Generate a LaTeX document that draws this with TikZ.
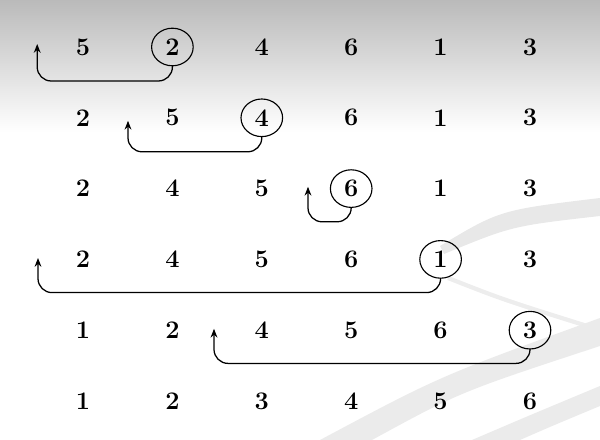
\documentclass[tikz,border=0pt]{standalone}
\usetikzlibrary{arrows.meta}

\begin{document}
\begin{tikzpicture}[line width=0.9pt,>={Stealth[length=2.2mm,width=1.7mm]},
  num/.style={font=\fontsize{18}{20}\selectfont\bfseries,inner sep=1pt},
  ring/.style={line width=0.8pt},
  back/.style={->,rounded corners=0.35cm}]
  \useasboundingbox (0,0) rectangle (15,11);
  % slide background
  \shade[top color=black!27,bottom color=white] (0,7.7) rectangle (15,11);
  \fill[black!9] (11.0,4.85) .. controls (12.5,5.75) .. (15,6.05) -- (15,5.6) .. controls (12.8,5.35) .. (11.1,4.65) -- cycle;
  \draw[black!7,line width=3pt] (11.2,4.05) .. controls (12.6,3.5) .. (15,2.75);
  \fill[black!8] (8.0,0) .. controls (11,1.6) .. (15,3.05) -- (15,2.35) .. controls (11.5,1.2) .. (9.3,0) -- cycle;
  \fill[black!8] (11.8,0) .. controls (13.2,0.6) .. (15,1.35) -- (15,0.85) .. controls (13.8,0.35) .. (13.0,0) -- cycle;
  % the six rows
  \foreach \vals [count=\r] in {{5,2,4,6,1,3},{2,5,4,6,1,3},{2,4,5,6,1,3},{2,4,5,6,1,3},{1,2,4,5,6,3},{1,2,3,4,5,6}}
    \foreach \v [count=\c] in \vals
      \node[num] (n\r\c) at ({2.075+2.235*(\c-1)},{9.825-1.77*(\r-1)}) {\v};
  \foreach \n in {12,23,34,45,56}
    \draw[ring] (n\n) ellipse [x radius=0.52,y radius=0.47];
  % where each key goes
  \coordinate (t1) at (0.93,9.9);
  \coordinate (t2) at (3.2,7.98);
  \coordinate (t3) at (7.7,6.33);
  \coordinate (t4) at (0.95,4.55);
  \coordinate (t5) at (5.35,2.78);
  \draw[back] ([yshift=-4.7mm]n12.center) -- ++(0,-0.38) -| (t1);
  \draw[back] ([yshift=-4.7mm]n23.center) -- ++(0,-0.38) -| (t2);
  \draw[back] ([yshift=-4.7mm]n34.center) -- ++(0,-0.36) -| (t3);
  \draw[back] ([yshift=-4.7mm]n45.center) -- ++(0,-0.36) -| (t4);
  \draw[back] ([yshift=-4.7mm]n56.center) -- ++(0,-0.36) -| (t5);
\end{tikzpicture}
\end{document}
